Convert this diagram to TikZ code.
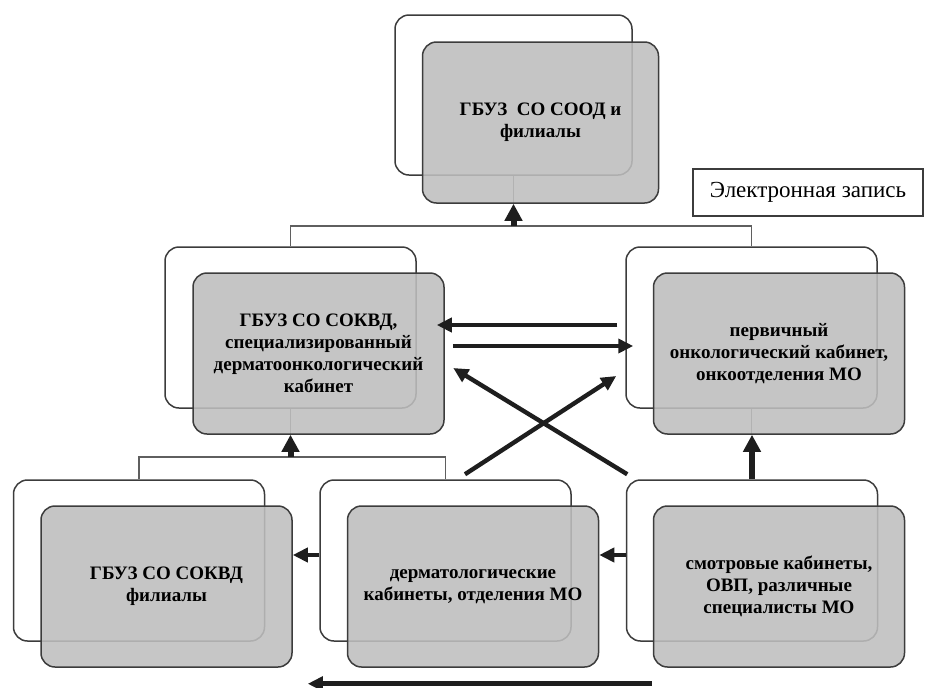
\documentclass[tikz,border=0pt]{standalone}
\usepackage{fontspec}
\setmainfont{Liberation Serif}
\usetikzlibrary{arrows.meta}
\usetikzlibrary{positioning}
\definecolor{boxgray}{RGB}{190,190,190}
\definecolor{edgecol}{RGB}{60,60,60}
\definecolor{linkcol}{RGB}{95,95,95}
\definecolor{arrowcol}{RGB}{30,30,30}
\tikzstyle{back} = [rectangle, rounded corners=7pt, minimum width=125.5pt, minimum height=80.5pt, draw=edgecol, line width=0.75pt, fill=white]
\tikzstyle{front} = [back, fill=boxgray, fill opacity=0.88, text opacity=1, align=center, font=\fontsize{9.5}{11}\selectfont\bfseries]
\tikzstyle{note} = [rectangle, draw=edgecol, line width=0.75pt, minimum width=115pt, minimum height=23.5pt, font=\fontsize{11.5}{13}\selectfont]
\tikzstyle{link} = [draw=linkcol, line width=0.8pt]
\tikzstyle{flow} = [draw=arrowcol, line width=2.2pt, -{Triangle[length=7.5pt,width=7pt]}]
\tikzstyle{upflow} = [flow, line width=3pt, -{Triangle[length=8.5pt,width=8.5pt]}]

\begin{document}
\begin{tikzpicture}[x=0.5pt, y=-0.5pt]
\useasboundingbox (0,0) rectangle (933,687);

% white cards behind
\node (topb) [back, minimum width=118.5pt, minimum height=80pt] at (513.5,95) {};
\node (leftb) [back] at (290.5,327.5) {};
\node (rightb) [back] at (751.5,327.5) {};
\node (filb) [back] at (139,560.5) {};
\node (dermb) [back] at (445.5,560.5) {};
\node (smotrb) [back] at (752,560.5) {};

% stems seen through the grey cards
\draw [link] (topb.south) -- ++(0,27);
\draw [link] (leftb.south) -- ++(0,26);
\draw [link] (rightb.south) -- ++(0,26);

% grey cards
\node (topf) [front, minimum width=118pt] at ([shift={(27,27.5)}]topb.center) {ГБУЗ \ СО СООД и\\филиалы};
\node (leftf) [front] at ([shift={(28,26)}]leftb.center) {ГБУЗ СО СОКВД,\\специализированный\\дерматоонкологический\\кабинет};
\node (rightf) [front] at ([shift={(27.5,26)}]rightb.center) {первичный\\онкологический кабинет,\\онкоотделения МО};
\node (filf) [front] at ([shift={(27.5,26)}]filb.center) {ГБУЗ СО СОКВД\\филиалы};
\node (dermf) [front] at ([shift={(27.5,26)}]dermb.center) {дерматологические\\кабинеты, отделения МО};
\node (smotrf) [front] at ([shift={(27,26)}]smotrb.center) {смотровые кабинеты,\\ОВП, различные\\специалисты МО};

\node (ezap) [note] at (808,192.5) {Электронная запись};

% tree lines
\draw [link] (leftb.north) -- ++(0,-20) coordinate (topbus) -| (rightb.north);
\draw [link] (filb.north) -- ++(0,-22) coordinate (lowbus) -| (dermb.north);

% arrows
\draw [upflow] (topb.south |- topbus) -- (topb.south |- topf.south);
\draw [upflow] (leftb.south |- lowbus) -- (leftb.south |- leftf.south);
\draw [upflow] (smotrb.north) -- (smotrb.north |- rightf.south);
\draw [flow] ([shift={(-8,-2.5)}]rightb.west) -- ([shift={(-8,-2.5)}]rightb.west -| leftf.east);
\draw [flow] ([shift={(8,-7.5)}]leftf.east) -- ([shift={(8,-7.5)}]leftf.east -| rightb.west);
\draw [flow] ([shift={(1.5,-5)}]smotrb.north west) -- ([shift={(8.5,14.5)}]leftf.east);
\draw [flow] ([shift={(19.5,-5)}]dermb.north) -- ([shift={(-9,48.5)}]rightb.west);
\draw [flow] ([yshift=2.75pt]dermb.west) -- ([yshift=2.75pt]dermb.west -| filf.east);
\draw [flow] ([yshift=2.75pt]smotrb.west) -- ([yshift=2.75pt]smotrb.west -| dermf.east);
\draw [flow, line width=2.4pt] ([shift={(-1,16)}]smotrf.south west) -- ([shift={(15,16)}]filf.south east);

\end{tikzpicture}
\end{document}
